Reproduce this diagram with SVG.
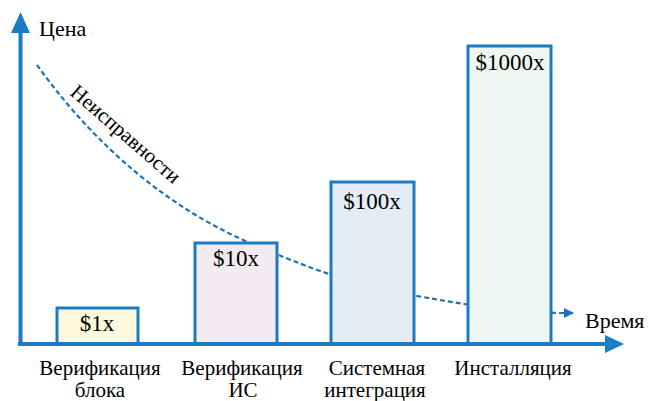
<svg xmlns="http://www.w3.org/2000/svg" width="649" height="401" viewBox="0 0 649 401">
  <defs>
    <marker id="tip" viewBox="0 0 10 10" refX="9" refY="5" markerWidth="10" markerHeight="10" markerUnits="userSpaceOnUse" orient="auto">
      <path d="M0,0 L10,5 L0,10 Z" fill="#1f73b3"/>
    </marker>
  </defs>
  <rect width="649" height="401" fill="#ffffff"/>

  <!-- cost-of-defects trend, drawn beneath the bars -->
  <g id="connectors" fill="none" stroke="#1f73b3" stroke-width="2.2">
    <path stroke-dasharray="5 3" d="M37,65 C80,125 150,200 250,243 S380,290 470,305 C505,310 530,313 563,313"/>
    <path d="M563,313 L573,313" marker-end="url(#tip)"/>
  </g>

  <g id="bar-block">
    <rect x="57" y="308" width="81" height="36" fill="#fdf7db" stroke="#1b7cc4" stroke-width="3"/>
    <text x="97" y="331" font-family="Liberation Serif" font-size="23" text-anchor="middle">$1x</text>
  </g>
  <g id="bar-ic">
    <rect x="195" y="243" width="82" height="101" fill="#f4eaf1" stroke="#1b7cc4" stroke-width="3"/>
    <text x="236" y="266" font-family="Liberation Serif" font-size="23" text-anchor="middle">$10x</text>
  </g>
  <g id="bar-system">
    <rect x="331" y="182" width="83" height="162" fill="#e4edf6" stroke="#1b7cc4" stroke-width="3"/>
    <text x="372" y="209" font-family="Liberation Serif" font-size="23" text-anchor="middle">$100x</text>
  </g>
  <g id="bar-install">
    <rect x="468" y="46" width="83" height="298" fill="#eef7f2" stroke="#1b7cc4" stroke-width="3"/>
    <text x="510" y="70" font-family="Liberation Serif" font-size="23" text-anchor="middle">$1000x</text>
  </g>

  <!-- axes -->
  <g id="axes">
    <line x1="20.5" y1="346" x2="20.5" y2="30" stroke="#1b7cc4" stroke-width="4"/>
    <polygon points="20.5,12 11,33 30,33" fill="#1b7cc4"/>
    <line x1="18" y1="344" x2="607" y2="344" stroke="#1b7cc4" stroke-width="4"/>
    <polygon points="624,344 605,335 605,353" fill="#1b7cc4"/>
    <text x="39" y="36" font-family="Liberation Serif" font-size="22">Цена</text>
    <text x="585" y="328" font-family="Liberation Serif" font-size="22">Время</text>
  </g>

  <g id="trend-label">
    <text transform="translate(69,94) rotate(41)" font-family="Liberation Serif" font-size="21">Неисправности</text>
  </g>

  <g id="stage-labels">
    <text x="100" y="375" font-family="Liberation Serif" font-size="21" text-anchor="middle">Верификация</text>
    <text x="100" y="397" font-family="Liberation Serif" font-size="21" text-anchor="middle">блока</text>
    <text x="242" y="375" font-family="Liberation Serif" font-size="21" text-anchor="middle">Верификация</text>
    <text x="243" y="397" font-family="Liberation Serif" font-size="21" text-anchor="middle">ИС</text>
    <text x="377" y="375" font-family="Liberation Serif" font-size="21" text-anchor="middle">Системная</text>
    <text x="375" y="397" font-family="Liberation Serif" font-size="21" text-anchor="middle">интеграция</text>
    <text x="513" y="375" font-family="Liberation Serif" font-size="21" text-anchor="middle">Инсталляция</text>
  </g>
</svg>
